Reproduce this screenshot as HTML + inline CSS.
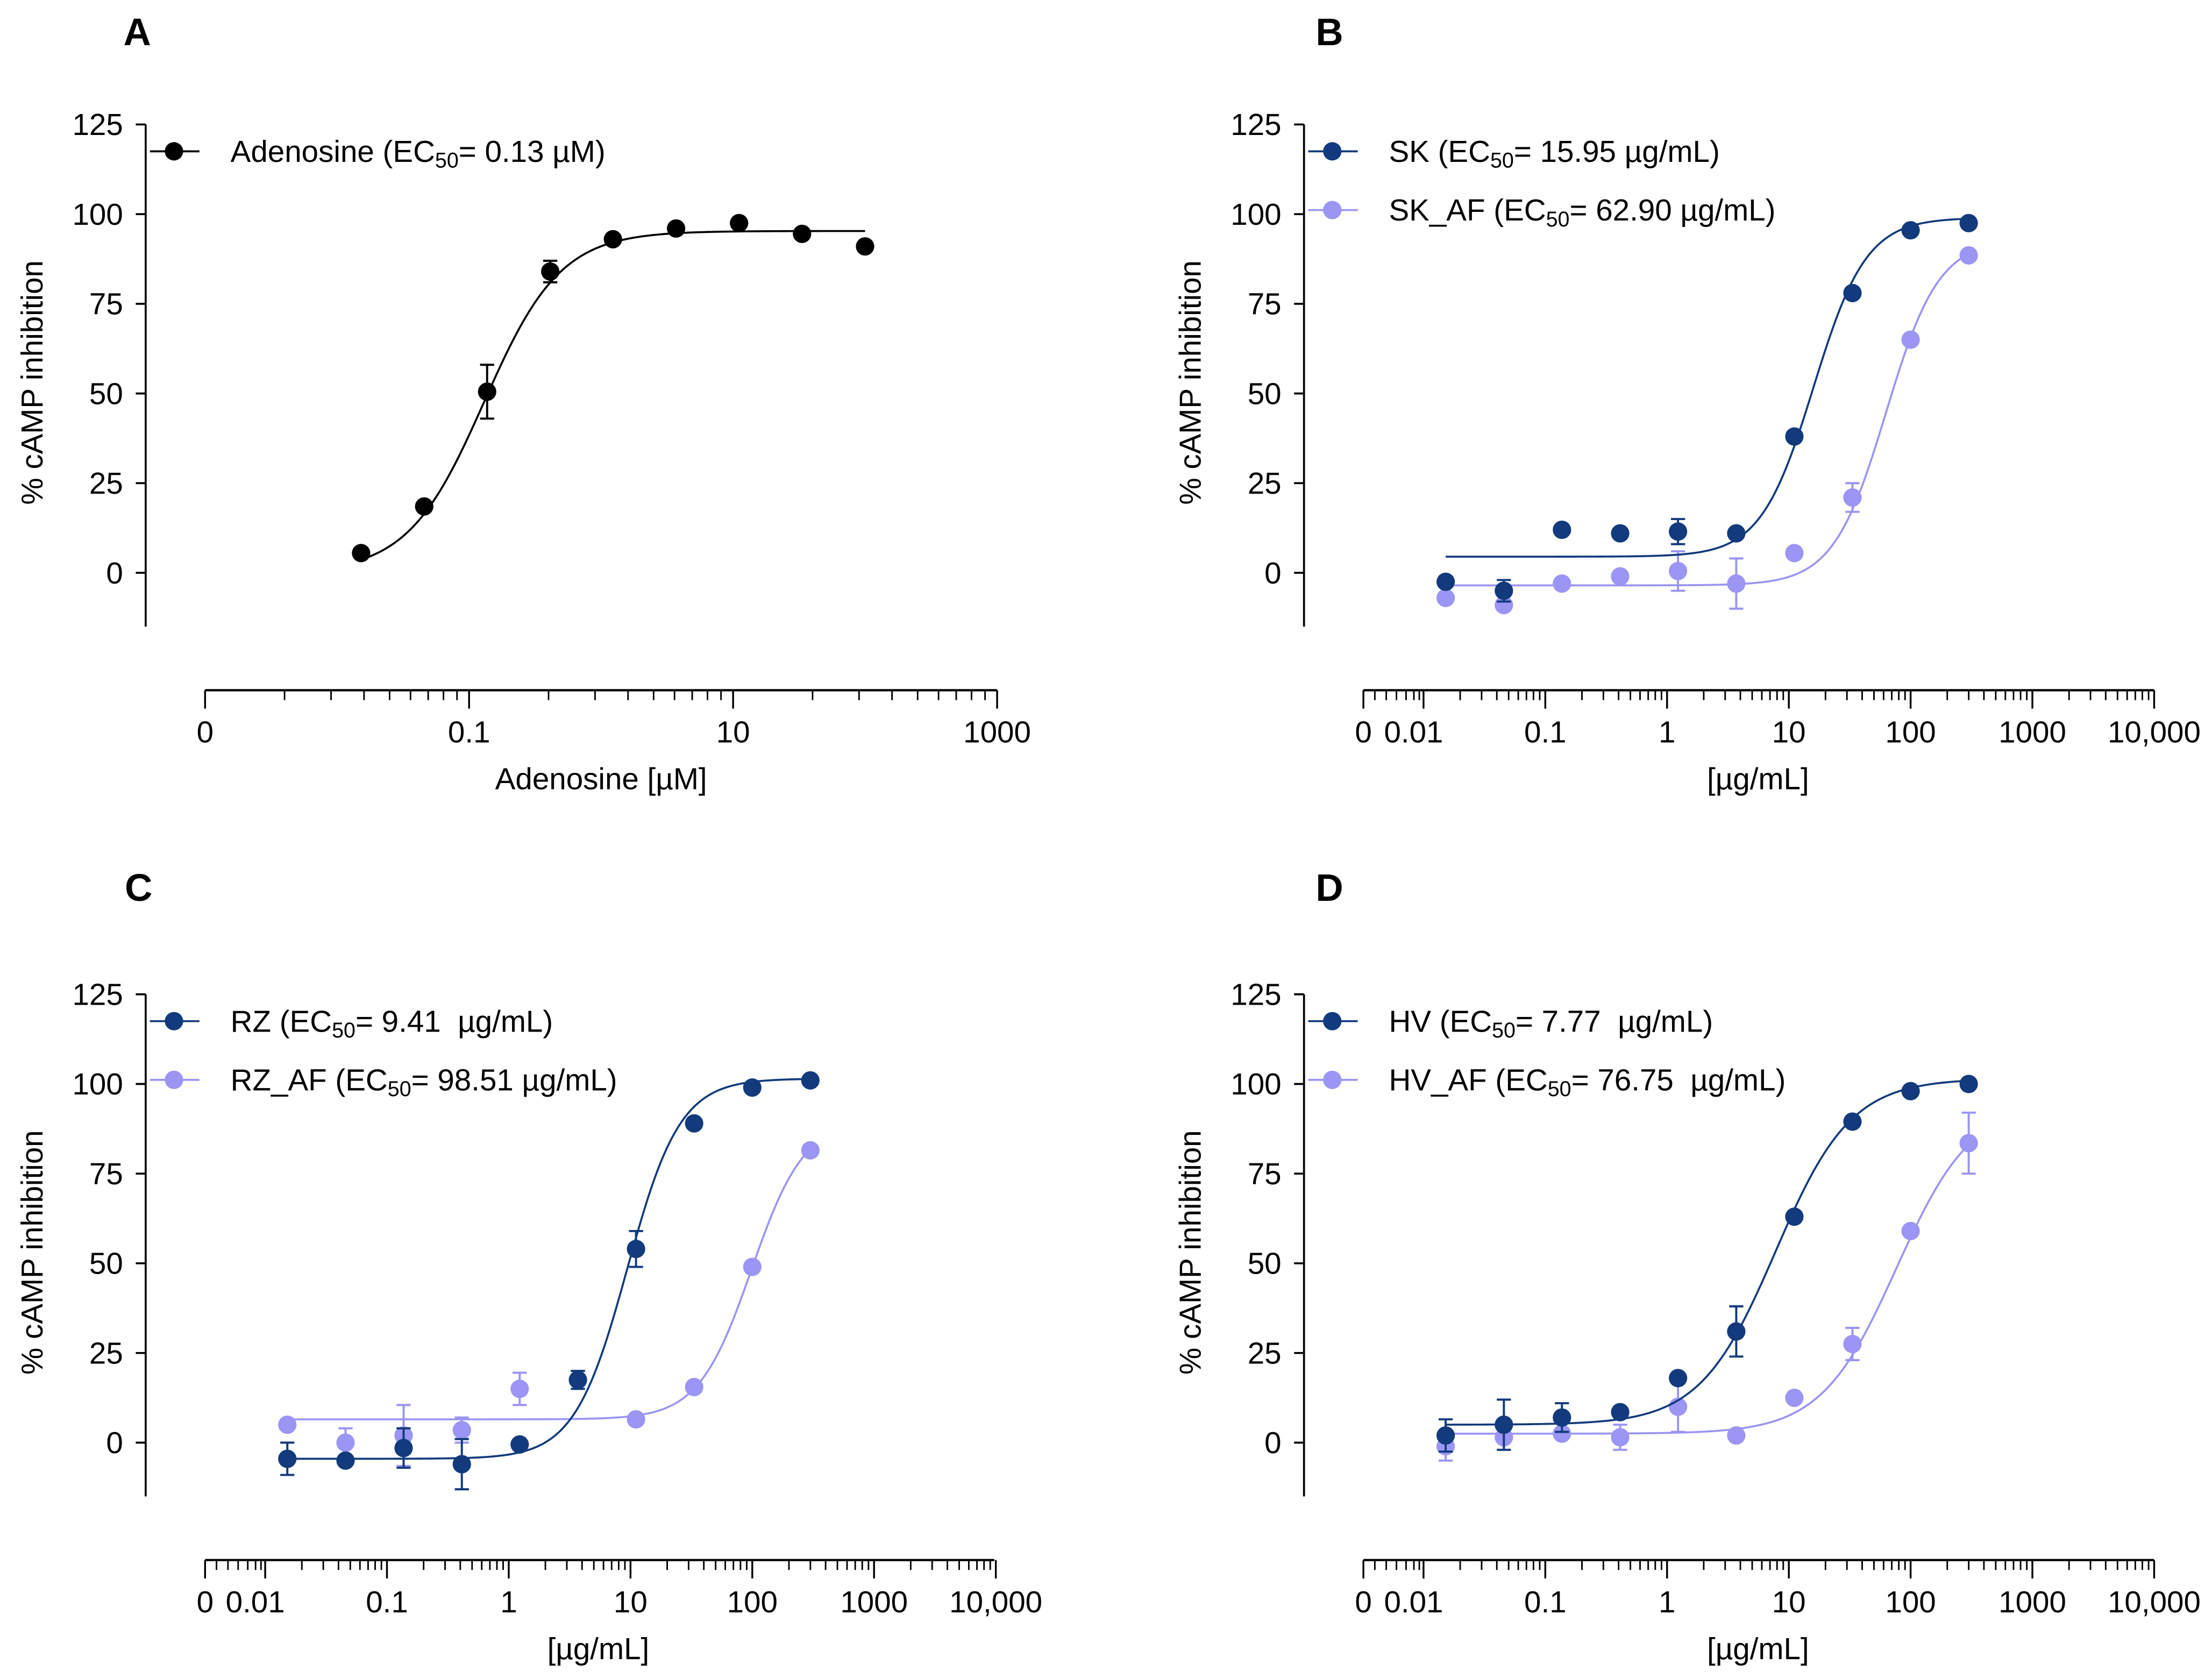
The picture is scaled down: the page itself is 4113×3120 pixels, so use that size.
<!DOCTYPE html>
<html><head><meta charset="utf-8"><style>
html,body{margin:0;padding:0;background:#fff;}
svg{display:block;font-family:"Liberation Sans",Arial,sans-serif;}
</style></head><body>
<svg id="fig" xmlns="http://www.w3.org/2000/svg" width="4113" height="3120" viewBox="0 0 1564 1186.4">
<rect width="1564" height="1186.4" fill="#fff"/>
</svg>
<script>
// ---- data ----
const concA = [0.0152, 0.0457, 0.137, 0.412, 1.23, 3.70, 11.1, 33.3, 100];
const adenosineY = [5.5, 18.5, 50.5, 84, 93, 96, 97.5, 94.5, 91];
const adenosineErr = [0, 0, 7.5, 3, 0, 0, 0, 0, 0];
const concB = [0.0152, 0.0457, 0.137, 0.412, 1.23, 3.70, 11.1, 33.3, 100, 300];
const skY = [-2.5, -5, 12, 11, 11.5, 11, 38, 78, 95.5, 97.5];
const skErr = [0, 3, 0, 0, 3.5, 0, 0, 0, 0, 0];
const skafY = [-7, -9, -3, -1, 0.5, -3, 5.5, 21, 65, 88.5];
const skafErr = [0, 0, 0, 0, 5.5, 7, 0, 4, 0, 0];
const rzY = [-4.5, -5, -1.5, -6, -0.5, 17.5, 54, 89, 99, 101];
const rzErr = [4.5, 0, 5.5, 7, 0, 2.5, 5, 0, 0, 0];
const rzafY = [5, 0, 2, 3.5, 15, 17.5, 6.5, 15.5, 49, 81.5];
const rzafErr = [0, 4, 8.5, 3.5, 4.5, 0, 0, 0, 0, 0];
const hvY = [2, 5, 7, 8.5, 18, 31, 63, 89.5, 98, 100];
const hvErr = [4.5, 7, 4, 0, 0, 7, 0, 0, 0, 0];
const hvafY = [-1, 1.5, 2.5, 1.5, 10, 2, 12.5, 27.5, 59, 83.5];
const hvafErr = [4, 0, 0, 3.5, 7, 0, 0, 4.5, 0, 8.5];
// fit params: [bottom, top, logEC50, hill]
const fitAden = [0, 95.3, Math.log10(0.13), 1.5];
const fitSK = [4.5, 99, Math.log10(15.95), 2];
const fitSKAF = [-3.5, 93, Math.log10(62.9), 2];
const fitRZ = [-4.5, 101.5, Math.log10(9.41), 2];
const fitRZAF = [6.5, 90, Math.log10(98.51), 2];
const fitHV = [5, 101.5, Math.log10(7.77), 1.4];
const fitHVAF = [2.5, 95, Math.log10(76.75), 1.4];
const yTicks = [0, 25, 50, 75, 100, 125];
const xLabelsA = ["0", "0.1", "10", "1000"];
const xLabelsB = ["0", "0.01", "0.1", "1", "10", "100", "1000", "10,000"];

const NS = "http://www.w3.org/2000/svg";
const svg = document.getElementById('fig');
const DARK = "#123a7c", LIGHT = "#9b95f3";
function el(tag, attrs, parent) {
  const e = document.createElementNS(NS, tag);
  for (const k in attrs) e.setAttribute(k, attrs[k]);
  (parent || svg).appendChild(e);
  return e;
}
function txt(s, x, y, size, anchor, parent, weight) {
  const t = el('text', {x: x, y: y, 'font-size': size, 'text-anchor': anchor || 'start', fill: '#000'}, parent);
  if (weight) t.setAttribute('font-weight', weight);
  t.textContent = s;
  return t;
}
function logistic(p, lx) { return p[0] + (p[1] - p[0]) / (1 + Math.pow(10, (p[2] - lx) * p[3])); }

function panel(cfg) {
  const g = el('g', {});
  
  
  const yPix = v => cfg.y0 - v * (cfg.y0 - cfg.y125) / 125;
  const xPix = c => cfg.xOrigin + (Math.log10(c) - cfg.logOrigin) * cfg.dec;
  const L = txt(cfg.letter, cfg.letterX, cfg.letterY, 27, 'middle', g, 'bold');
  
  
  const ya = el('g', {}, g);
  
  
  el('line', {x1: cfg.ax, x2: cfg.ax, y1: cfg.y125, y2: cfg.yBot, stroke: '#000', 'stroke-width': 1.4}, ya);
  yTicks.forEach(v => {
    const y = yPix(v);
    el('line', {x1: cfg.ax - 7, x2: cfg.ax, y1: y, y2: y, stroke: '#000', 'stroke-width': 1.4}, ya);
    const t = txt(String(v), cfg.ax - 16, y + 7.5, 21.5, 'end', ya);
    
    
  });
  const midY = (cfg.y125 + cfg.yBot) / 2 + 5;
  const yt = txt('% cAMP inhibition', 0, 0, 21.5, 'middle', g);
  yt.setAttribute('transform', `translate(${cfg.ax - 73},${midY}) rotate(-90)`);
  
  
  const xa = el('g', {}, g);
  
  
  el('line', {x1: cfg.xStart, x2: cfg.xEnd, y1: cfg.xAxisY, y2: cfg.xAxisY, stroke: '#000', 'stroke-width': 1.6}, xa);
  cfg.majors.forEach((px, i) => {
    el('line', {x1: px, x2: px, y1: cfg.xAxisY, y2: cfg.xAxisY + 13, stroke: '#000', 'stroke-width': 1.3}, xa);
    const t = txt(cfg.labels[i], px + (cfg.labelShift[i] || 0), cfg.xAxisY + 37, 21.5, 'middle', xa);
    
    
  });
  cfg.minors.forEach(px => {
    el('line', {x1: px, x2: px, y1: cfg.xAxisY, y2: cfg.xAxisY + 7, stroke: '#000', 'stroke-width': 1.1}, xa);
  });
  const xt = txt(cfg.xTitle, cfg.xTitleX, cfg.xAxisY + 70, 21.5, 'middle', g);
  
  
  cfg.series.forEach((s) => {
    const sg = el('g', {}, g);
    
    
    let d = '';
    const lo = Math.log10(cfg.conc[0]), hi = Math.log10(cfg.conc[cfg.conc.length - 1]);
    for (let i = 0; i <= 200; i++) {
      const lx = lo + (hi - lo) * i / 200;
      d += (i ? 'L' : 'M') + (cfg.xOrigin + (lx - cfg.logOrigin) * cfg.dec).toFixed(2) + ',' + yPix(logistic(s.fit, lx)).toFixed(2);
    }
    const cp = el('path', {d: d, fill: 'none', stroke: s.color, 'stroke-width': 1.4}, sg);
    
    
    s.y.forEach((v, i) => {
      const x = xPix(cfg.conc[i]), y = yPix(v);
      const e = s.err[i];
      if (e > 0) {
        const eb = el('path', {d: `M${x},${yPix(v + e)}V${yPix(v - e)}M${x - 5},${yPix(v + e)}h10M${x - 5},${yPix(v - e)}h10`, stroke: s.color, 'stroke-width': 1.5, fill: 'none'}, sg);
        
        
      }
      const c = el('circle', {cx: x, cy: y, r: 6.5, fill: s.color}, sg);
      
      
    });
    const lg = el('g', {}, g);
    
    
    const ly = cfg.legendY + s.slot * 41.5;
    el('line', {x1: cfg.ax + 3, x2: cfg.ax + 38, y1: ly, y2: ly, stroke: s.color, 'stroke-width': 1.4}, lg);
    el('circle', {cx: cfg.ax + 20, cy: ly, r: 6.5, fill: s.color}, lg);
    const t = el('text', {x: cfg.ax + 60, y: ly + 7.5, 'font-size': 21.5, fill: '#000'}, lg);
    const a = el('tspan', {}, t); a.textContent = s.label[0];
    const b = el('tspan', {'font-size': 15, dy: 4}, t); b.textContent = '50';
    const c2 = el('tspan', {dy: -4}, t); c2.textContent = s.label[1];
  });
}

function logMinors(start, width) {
  const r = [];
  for (let k = 2; k <= 9; k++) r.push(start + Math.log10(k) * width);
  return r;
}
function cfgA() {
  const x0 = 145, w = 186.67;
  const majors = [0, 1, 2, 3].map(i => x0 + i * w);
  let minors = [];
  for (let i = 0; i < 3; i++) minors = minors.concat(logMinors(majors[i], w));
  return {majors, minors};
}
function cfgB(x0) {
  const first = x0 + 42.5, w = 86.1;
  const majors = [x0];
  for (let i = 0; i <= 6; i++) majors.push(first + i * w);
  let minors = [0.19, 0.38, 0.55, 0.71, 0.84, 0.93].map(f => x0 + f * 42.5);
  for (let i = 0; i < 6; i++) minors = minors.concat(logMinors(first + i * w, w));
  return {majors, minors, first, w};
}

const A = cfgA();
panel({name: 'panel-a', letter: 'A', letterX: 97, letterY: 32, ax: 103, y125: 88, y0: 405, yBot: 443,
  xAxisY: 488, xStart: 145, xEnd: 705, majors: A.majors, minors: A.minors, labels: xLabelsA, labelShift: [],
  xOrigin: 145, logOrigin: -3, dec: 93.33, xTitle: 'Adenosine [µM]', xTitleX: 425, legendY: 107,
  conc: concA,
  series: [{id: 'adenosine', slot: 0, color: '#000', y: adenosineY, err: adenosineErr, fit: fitAden, label: ['Adenosine (EC', '= 0.13 µM)']}]});

const B = cfgB(964);
panel({name: 'panel-b', letter: 'B', letterX: 940, letterY: 32, ax: 922, y125: 88, y0: 405, yBot: 443,
  xAxisY: 488, xStart: 964, xEnd: 1523, majors: B.majors, minors: B.minors, labels: xLabelsB, labelShift: [0, -7, 0, 0, 0, 0, 0, 0],
  xOrigin: B.first, logOrigin: -2, dec: B.w, xTitle: '[µg/mL]', xTitleX: 1243, legendY: 107,
  conc: concB,
  series: [
    {id: 'sk-af', slot: 1, color: LIGHT, y: skafY, err: skafErr, fit: fitSKAF, label: ['SK_AF (EC', '= 62.90 µg/mL)']},
    {id: 'sk', slot: 0, color: DARK, y: skY, err: skErr, fit: fitSK, label: ['SK (EC', '= 15.95 µg/mL)']}]});

const C = cfgB(145);
panel({name: 'panel-c', letter: 'C', letterX: 98, letterY: 637, ax: 103, y125: 703, y0: 1020, yBot: 1058,
  xAxisY: 1103, xStart: 145, xEnd: 703, majors: C.majors, minors: C.minors, labels: xLabelsB, labelShift: [0, -7, 0, 0, 0, 0, 0, 0],
  xOrigin: C.first, logOrigin: -2, dec: C.w, xTitle: '[µg/mL]', xTitleX: 423, legendY: 722,
  conc: concB,
  series: [
    {id: 'rz-af', slot: 1, color: LIGHT, y: rzafY, err: rzafErr, fit: fitRZAF, label: ['RZ_AF (EC', '= 98.51 µg/mL)']},
    {id: 'rz', slot: 0, color: DARK, y: rzY, err: rzErr, fit: fitRZ, label: ['RZ (EC', '= 9.41\u00a0 µg/mL)']}]});

const D = cfgB(964);
panel({name: 'panel-d', letter: 'D', letterX: 940, letterY: 637, ax: 922, y125: 703, y0: 1020, yBot: 1058,
  xAxisY: 1103, xStart: 964, xEnd: 1523, majors: D.majors, minors: D.minors, labels: xLabelsB, labelShift: [0, -7, 0, 0, 0, 0, 0, 0],
  xOrigin: D.first, logOrigin: -2, dec: D.w, xTitle: '[µg/mL]', xTitleX: 1243, legendY: 722,
  conc: concB,
  series: [
    {id: 'hv-af', slot: 1, color: LIGHT, y: hvafY, err: hvafErr, fit: fitHVAF, label: ['HV_AF (EC', '= 76.75\u00a0 µg/mL)']},
    {id: 'hv', slot: 0, color: DARK, y: hvY, err: hvErr, fit: fitHV, label: ['HV (EC', '= 7.77\u00a0 µg/mL)']}]});
</script>
</body></html>
